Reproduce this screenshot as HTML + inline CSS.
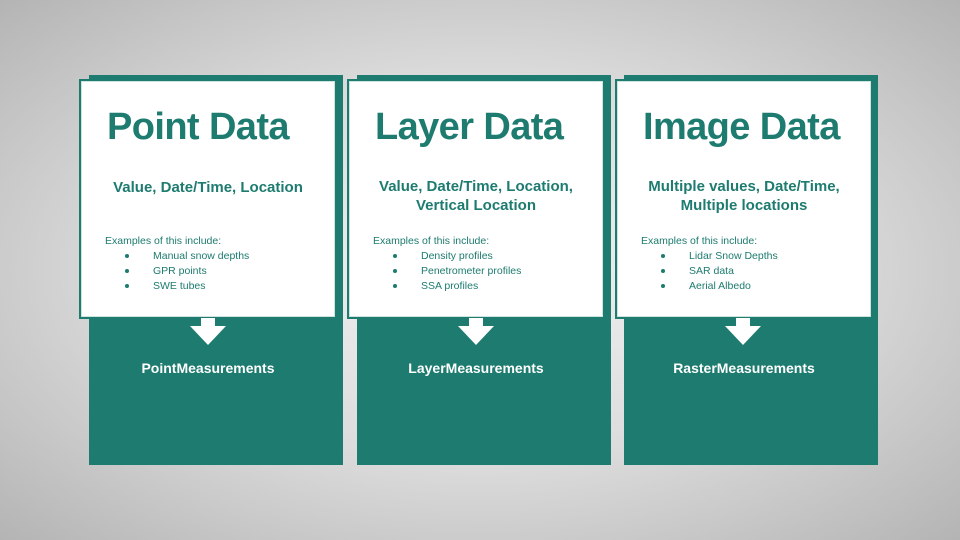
<!DOCTYPE html>
<html><head><style>
body{margin:0;width:960px;height:540px;overflow:hidden;background:radial-gradient(ellipse at 50% 50%,#f2f2f2 0%,#dcdcdc 50%,#b4b4b4 100%);font-family:"Liberation Sans",sans-serif;position:relative}
.t{position:absolute;background:#1d7b6f;top:75px;width:254px;height:390px}
.w{position:absolute;background:#fff;border:2px solid #1d7b6f;top:79px;width:254px;height:236px;box-sizing:content-box;box-shadow:0 0 0 1px #cfe3df inset}
.h{position:absolute;left:26px;top:25px;font-size:38px;font-weight:bold;color:#1d7b6f;letter-spacing:-0.6px}
.s{position:absolute;left:0;width:100%;text-align:center;top:96px;font-size:15px;font-weight:bold;color:#1d7b6f;line-height:19px}
.e{position:absolute;left:24px;top:153px;font-size:10.5px;color:#1d7b6f;line-height:15px}
.e div{padding-left:48px;position:relative}
.e div:before{content:"";position:absolute;left:20px;top:5px;width:4px;height:4px;border-radius:50%;background:#1d7b6f}
.a{position:absolute;top:318px}
.m{position:absolute;top:360px;width:254px;text-align:center;color:#fff;font-weight:bold;font-size:14px}
</style></head><body>
<div class="t" style="left:89px"></div><div class="t" style="left:357px"></div><div class="t" style="left:624px"></div>
<div class="w" style="left:79px"><div class="h">Point Data</div><div class="s" style="top:97px">Value, Date/Time, Location</div><div class="e">Examples of this include:<div>Manual snow depths</div><div>GPR points</div><div>SWE tubes</div></div></div>
<div class="w" style="left:347px"><div class="h">Layer Data</div><div class="s">Value, Date/Time, Location,<br>Vertical Location</div><div class="e">Examples of this include:<div>Density profiles</div><div>Penetrometer profiles</div><div>SSA profiles</div></div></div>
<div class="w" style="left:615px"><div class="h">Image Data</div><div class="s">Multiple values, Date/Time,<br>Multiple locations</div><div class="e">Examples of this include:<div>Lidar Snow Depths</div><div>SAR data</div><div>Aerial Albedo</div></div></div>
<svg class="a" style="left:190px" width="38" height="28"><polygon points="11,0 25,0 25,8 36,8 18,27 0,8 11,8" fill="#fff"/></svg>
<svg class="a" style="left:458px" width="38" height="28"><polygon points="11,0 25,0 25,8 36,8 18,27 0,8 11,8" fill="#fff"/></svg>
<svg class="a" style="left:725px" width="38" height="28"><polygon points="11,0 25,0 25,8 36,8 18,27 0,8 11,8" fill="#fff"/></svg>
<div class="m" style="left:81px">PointMeasurements</div>
<div class="m" style="left:349px">LayerMeasurements</div>
<div class="m" style="left:617px">RasterMeasurements</div>
</body></html>
